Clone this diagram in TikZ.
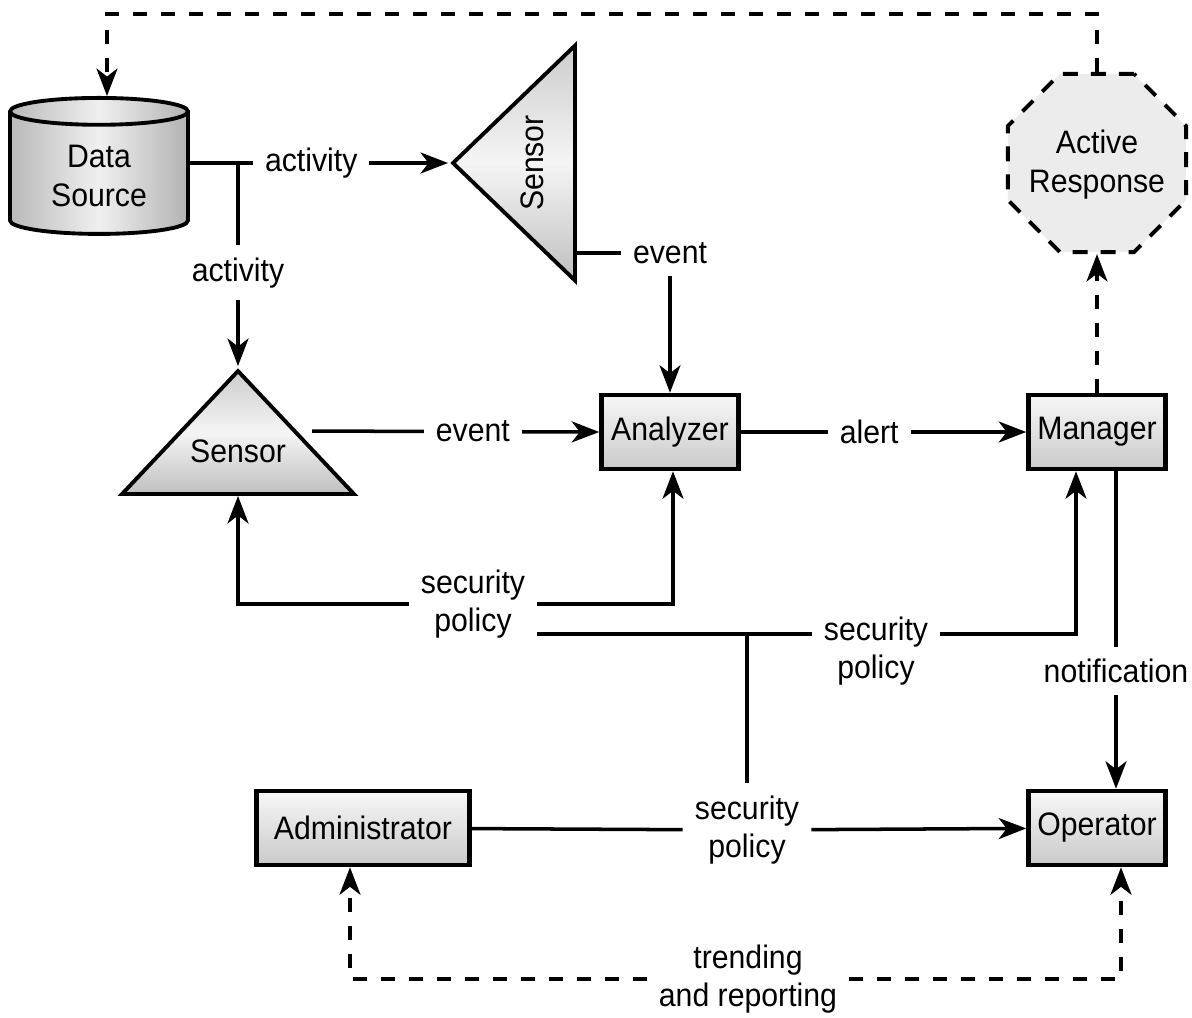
\documentclass[tikz,border=0pt]{standalone}
\usepackage{fontspec}
\setmainfont{Liberation Sans}[FakeStretch=0.93]
\usetikzlibrary{shapes.geometric, arrows.meta, positioning, calc}
\newcommand{\nobox}[2][-0.36cm]{\smash{\makebox[0pt]{\raisebox{#1}{#2}}}}
\tikzstyle{box} = [rectangle, draw=black, line width=2.6pt, top color=gray!6, bottom color=gray!42, minimum width=2.74cm, minimum height=1.48cm]
\tikzstyle{sensor} = [isosceles triangle, isosceles triangle stretches, draw=black, line width=2.2pt, top color=gray!40, bottom color=gray!50, middle color=gray!8, inner sep=0pt]
\tikzstyle{lbl} = [fill=white, inner sep=0.24cm, align=center]
\tikzstyle{line} = [line width=2pt]
\tikzstyle{arrow} = [line, -{Stealth[length=5.5mm, width=4.2mm, inset=1.6mm]}]
\tikzstyle{dasharrow} = [arrow, dash pattern=on 0.28cm off 0.28cm]

\begin{document}
\begin{tikzpicture}[font=\fontsize{18.5}{22}\selectfont]
    \useasboundingbox (0,0) rectangle (23.84,-20.34);

    % Source and sensors
    \node[cylinder, shape border rotate=90, aspect=0.25, draw=black, line width=2.2pt, left color=gray!55, right color=gray!60, middle color=gray!12, minimum width=3.56cm, minimum height=2.72cm, align=center] (ds) at (1.98,-3.52) {Data\\Source};
    \node[sensor, rotate=90, shape border rotate=90, minimum width=4.7cm, minimum height=2.44cm, anchor=apex] (s1) at (8.96,-3.26) {\nobox{Sensor}};
    \node[sensor, shape border rotate=90, minimum width=4.64cm, minimum height=2.46cm, anchor=apex] (s2) at (4.76,-7.32) {\nobox{Sensor}};

    % Components
    \node[box] (an) at (13.4,-8.64) {Analyzer};
    \node[box] (mg) at (21.94,-8.64) {Manager};
    \node[regular polygon, regular polygon sides=8, draw=black, line width=2.2pt, dash pattern=on 0.3cm off 0.26cm, fill=gray!15, inner sep=0pt, minimum size=3.86cm] (ar) at (21.94,-3.26) {\nobox[-0.2cm]{\begin{tabular}{@{}c@{}}Active\\Response\end{tabular}}};
    \node[box, minimum width=4.26cm] (ad) at (7.26,-16.56) {Administrator};
    \node[box] (op) at (21.94,-16.56) {Operator};

    % Policy labels
    \node[lbl] (sp1) at (9.46,-12.08) {security\\policy};
    \node[lbl] (sp2) at (17.52,-13.02) {security\\policy};
    \node[lbl] (sp3) at (14.94,-16.6) {security\\policy};
    \node[lbl] (tr) at (14.96,-19.58) {trending\\and reporting};
    \coordinate (jA) at (4.76,-3.26);
    \coordinate (bus) at (14.94,-12.68);

    % Activity and events
    \draw[arrow] (ds.east |- s1.apex) -- node[lbl, pos=0.47] {activity} (s1.apex);
    \draw[arrow] (jA) -- node[lbl, pos=0.54] {activity} (s2.apex);
    \draw[arrow] ([yshift=-1.8cm]s1.lower side) -| node[lbl] {event} (an.north);
    \draw[arrow, shorten <=0.28cm] (s2.right side) -- node[lbl, pos=0.58] {event} (an.west);
    \draw[arrow] (an.east) -- node[lbl, pos=0.45] {alert} (mg.west);
    \draw[arrow] ([xshift=0.38cm]mg.south) -- node[lbl, pos=0.63] {notification} ([xshift=0.38cm]op.north);

    % Response
    \draw[dasharrow] (mg.north) -- (ar.south);
    \draw[dasharrow] (ar.north) -- (ar.north |- 0,-0.28) -| ([xshift=0.16cm]ds.north);

    % Security policy
    \draw[arrow] (sp1.west) -| (s2.lower side);
    \draw[arrow] (sp1.east) -| ([xshift=0.06cm]an.south);
    \draw[line] (sp1.east |- bus) -- (sp2.west |- bus);
    \draw[arrow] (sp2.east |- bus) -| ([xshift=-0.42cm]mg.south);
    \draw[line] (bus) -- (sp3.north);
    \draw[line] (ad) -- (sp3);
    \draw[arrow] (sp3) -- (op);

    % Trending
    \draw[dasharrow] (tr.west) -| ([xshift=-0.26cm]ad.south);
    \draw[dasharrow] (tr.east) -| ([xshift=0.48cm]op.south);
\end{tikzpicture}
\end{document}
